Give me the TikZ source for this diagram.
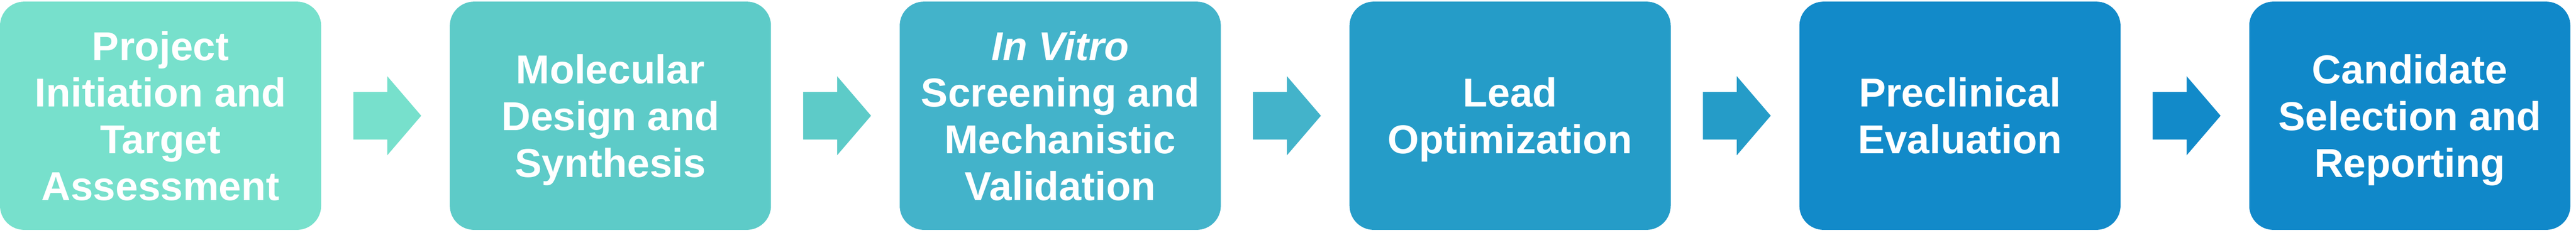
\documentclass[tikz,border=0pt]{standalone}
\usepackage{fontspec}
\setmainfont{Liberation Sans}
\definecolor{stageA}{HTML}{77E0CC}
\definecolor{stageB}{HTML}{5DCBC8}
\definecolor{stageC}{HTML}{43B3CA}
\definecolor{stageD}{HTML}{259CC8}
\definecolor{stageE}{HTML}{128AC9}
\definecolor{stageF}{HTML}{1088C9}
\tikzstyle{stage}=[rectangle, rounded corners=0.6cm, minimum width=7.95cm, minimum height=5.66cm, inner sep=0pt, text depth=0pt, align=center, text=white, font=\fontsize{28.45}{33}\selectfont\bfseries]
\tikzstyle{flow}=[draw=none]

\begin{document}
\begin{tikzpicture}
      \useasboundingbox (0,0) rectangle (63.77,5.77);
      \node[stage, fill=stageA] (init) at (3.975, 2.90) {Project\\Initiation and\\Target\\Assessment};
      \node[stage, fill=stageB] (design) at (15.111, 2.90) {Molecular\\Design and\\Synthesis};
      \node[stage, fill=stageC] (screen) at (26.247, 2.90) {\textit{In Vitro}\\Screening and\\Mechanistic\\Validation};
      \node[stage, fill=stageD] (lead) at (37.383, 2.90) {Lead\\Optimization};
      \node[stage, fill=stageE] (preclin) at (48.519, 2.90) {Preclinical\\Evaluation};
      \node[stage, fill=stageF] (select) at (59.655, 2.90) {Candidate\\Selection and\\Reporting};
      % block arrows between the stages
      \fill[flow, stageA] ([shift={(0.79,0.59)}]init.east) -- ++(0.84,0) -- ++(0,0.39) -- ++(0.84,-0.98) -- ++(-0.84,-0.98) -- ++(0,0.39) -- ++(-0.84,0) -- cycle;
      \fill[flow, stageB] ([shift={(0.79,0.59)}]design.east) -- ++(0.84,0) -- ++(0,0.39) -- ++(0.84,-0.98) -- ++(-0.84,-0.98) -- ++(0,0.39) -- ++(-0.84,0) -- cycle;
      \fill[flow, stageC] ([shift={(0.79,0.59)}]screen.east) -- ++(0.84,0) -- ++(0,0.39) -- ++(0.84,-0.98) -- ++(-0.84,-0.98) -- ++(0,0.39) -- ++(-0.84,0) -- cycle;
      \fill[flow, stageD] ([shift={(0.79,0.59)}]lead.east) -- ++(0.84,0) -- ++(0,0.39) -- ++(0.84,-0.98) -- ++(-0.84,-0.98) -- ++(0,0.39) -- ++(-0.84,0) -- cycle;
      \fill[flow, stageE] ([shift={(0.79,0.59)}]preclin.east) -- ++(0.84,0) -- ++(0,0.39) -- ++(0.84,-0.98) -- ++(-0.84,-0.98) -- ++(0,0.39) -- ++(-0.84,0) -- cycle;
    \end{tikzpicture}
\end{document}
